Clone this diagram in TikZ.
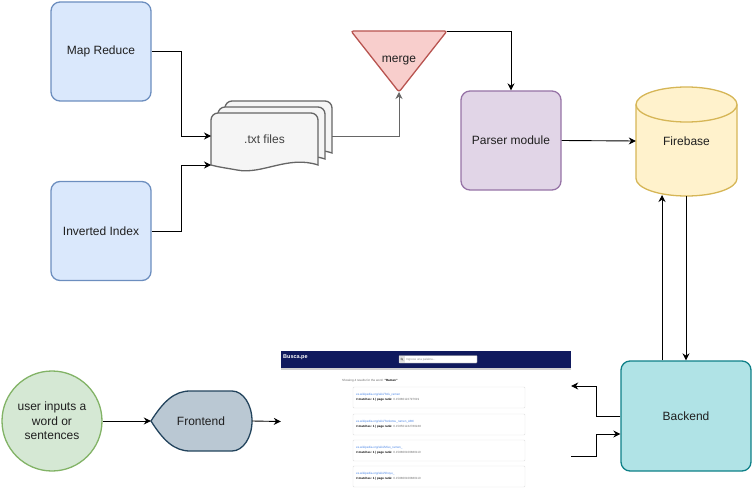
\documentclass[tikz,border=0pt]{standalone}
\usepackage{fontspec}
\setmainfont{Liberation Sans}
\usetikzlibrary{arrows.meta}
\definecolor{mrfill}{HTML}{DAE8FC}\definecolor{mrdraw}{HTML}{6C8EBF}
\definecolor{docfill}{HTML}{F5F5F5}\definecolor{docdraw}{HTML}{666666}
\definecolor{mgfill}{HTML}{F8CECC}\definecolor{mgdraw}{HTML}{B85450}
\definecolor{pmfill}{HTML}{E1D5E7}\definecolor{pmdraw}{HTML}{9673A6}
\definecolor{fbfill}{HTML}{FFF2CC}\definecolor{fbdraw}{HTML}{D6B656}
\definecolor{befill}{HTML}{B0E3E6}\definecolor{bedraw}{HTML}{0E8088}
\definecolor{usfill}{HTML}{D5E8D4}\definecolor{usdraw}{HTML}{82B366}
\definecolor{fefill}{HTML}{BAC8D3}\definecolor{fedraw}{HTML}{23445D}
\definecolor{navy}{HTML}{101A5E}
\definecolor{linkblue}{HTML}{4A86E8}
\definecolor{txtdark}{HTML}{1F1F1F}
\begin{document}
\begin{tikzpicture}[x=1pt,y=-1pt,
  lbl/.style={font=\fontsize{12}{14.5}\selectfont, text=txtdark, align=center},
  box/.style={lbl, draw, line width=1.3pt, rounded corners=9pt},
  arr/.style={line width=0.9pt, -{Stealth[length=7pt,width=7pt]}},
  shapeline/.style={line width=1.3pt},
  doc/.style={fill=docfill, draw=docdraw, line width=1.3pt},
  tiny/.style={font=\fontsize{3}{3.5}\selectfont, inner sep=0pt, anchor=west},
  card/.style={fill=white, draw=black!12, line width=0.4pt, rounded corners=1pt}]
\useasboundingbox (0,0) rectangle (752,492);

% ---- top-left boxes
\node[box, fill=mrfill, draw=mrdraw, minimum width=100pt, minimum height=99pt] (mr) at (101,51.5) {Map Reduce};
\node[box, fill=mrfill, draw=mrdraw, minimum width=100pt, minimum height=99pt] (ii) at (101,231) {Inverted Index};

% ---- multi-document
\foreach \dx/\dy in {14/-12, 7/-6, 0/0}{
  \begin{scope}[shift={(\dx,\dy)}]
  \draw[doc] (211,165) -- (211,121) [rounded corners=7pt] -- (211,113) -- (318,113) [sharp corners] -- (318,121) -- (318,165)
    .. controls (288,155) and (262,175) .. (237,170) .. controls (226,168) and (218,167) .. (211,165) -- cycle;
  \end{scope}}
\node[lbl, text=black!75, minimum width=107pt, minimum height=52pt] (txt) at (264.5,139) {.txt files};
\coordinate (txtin1) at (211,136);
\coordinate (txtin2) at (211,165);
\coordinate (txtout) at (332,136);

\draw[arr] (mr.east) -- (181,51.5) |- (txtin1);
\draw[arr] (ii.east) -- (181,231) |- (txtin2);

% ---- merge triangle
\coordinate (mtl) at (351,31);
\coordinate (mtr) at (447,31);
\coordinate (mtip) at (399,92);
\draw[fill=mgfill, draw=mgdraw, shapeline, rounded corners=2.5pt] (mtl) -- (mtr) -- (mtip) -- cycle;
\node[lbl] (merge) at (399,61) {merge};
\draw[arr, draw=black!60] (txtout) -| (mtip);

% ---- parser
\node[box, fill=pmfill, draw=pmdraw, minimum width=100pt, minimum height=99pt] (pm) at (511,140.5) {Parser module};
\draw[arr] (mtr) -| (pm.north);

% ---- firebase cylinder
\draw[fill=fbfill, draw=fbdraw, shapeline] (636,104.5) -- (636,178.5)
  arc[start angle=180, end angle=360, x radius=50.5pt, y radius=17.5pt] -- (737,104.5)
  arc[start angle=0, end angle=180, x radius=50.5pt, y radius=17.5pt] -- cycle;
\draw[draw=fbdraw, shapeline] (636,104.5) arc[start angle=180, end angle=360, x radius=50.5pt, y radius=17.5pt];
\node[lbl, minimum width=101pt, minimum height=109pt] (fb) at (686.5,141) {Firebase};
\draw[arr] (pm.east) -- (fb.west);

% ---- backend
\node[box, fill=befill, draw=bedraw, minimum width=130pt, minimum height=110pt] (be) at (686,416) {Backend};
\draw[arr] (be.north -| 662,0) -- (662,195);
\draw[arr] (686,196) -- (be.north);

% ---- user / frontend
\node[lbl, circle, draw=usdraw, fill=usfill, line width=1.3pt, minimum size=100pt, inner sep=0pt] (user) at (52,421) {user inputs a\\word or\\sentences};
\draw[fill=fefill, draw=fedraw, shapeline] (151,421) .. controls (163,402) and (174,391) .. (190,391) -- (232,391)
  arc[start angle=90, end angle=-90, x radius=20pt, y radius=30pt] -- (190,451)
  .. controls (174,451) and (163,440) .. (151,421) -- cycle;
\node[lbl, minimum width=101pt, minimum height=60pt] (fe) at (201.5,421) {};
\node[lbl] (fetext) at (201,421) {Frontend};
\draw[arr] (user.east) -- (fe.west);

% ---- screenshot
\node[fill=white, minimum width=290pt, minimum height=141pt, inner sep=0pt] (shot) at (426,421.5) {};
\draw[arr] (fe.east) -- (shot.west);
\fill[navy] (281,351) rectangle (571,368);
\fill[black!18] (281,368) rectangle (571,369.5);
\node[anchor=west, inner sep=0pt, text=white, font=\fontsize{5.5}{6}\selectfont\bfseries] (brand) at (283,357.5) {Busca.pe};
\draw[fill=white, draw=black!40, line width=0.4pt, rounded corners=0.6pt] (399,355.5) rectangle (477,363);
\fill[black!12] (399.4,355.9) rectangle (404.5,362.6);
\draw[black!55, line width=0.35pt] (401.6,358.9) circle[radius=1pt] (402.3,359.6) -- (403.3,360.6);
\node[tiny, text=black!45] (ph) at (406,359.3) {Ingrese una palabra...};
\node[tiny, text=black!60] (showing) at (342,380.5) {Showing 4 results for the word: \textbf{\textcolor{black}{"Ramen"}}};
\foreach \y/\lnk/\num in {387/{es.wikipedia.org/wiki/Tofu\_ramen}/{0.15880122797619},
                         414/{es.wikipedia.org/wiki/Tonkotsu\_ramen\_ABC}/{0.158501242780248},
                         440/{es.wikipedia.org/wiki/Miso\_ramen\_}/{0.158800100880110},
                         466/{es.wikipedia.org/wiki/Shoyu\_}/{0.158800100880110}}{
  \draw[card] (353,\y) rectangle (525,\y+21);
  \node[tiny, text=linkblue] at (356,\y+7.5) {\lnk};
  \draw[linkblue, line width=0.25pt] (356,\y+9) -- ++(0,0);
  \node[tiny, text=black] at (356,\y+13) {\textbf{\# matches: 1 | page rank:} \textcolor{black!55}{\num}};
}
\coordinate (shotout) at (shot.east |- 0,386);
\coordinate (shotin) at (shot.east |- 0,456);
\draw[arr] (be.west |- 0,416) -- (596,416) |- (shotout);
\draw[arr] (shotin) -- (596,456) |- (be.west |- 0,434);
\end{tikzpicture}
\end{document}
